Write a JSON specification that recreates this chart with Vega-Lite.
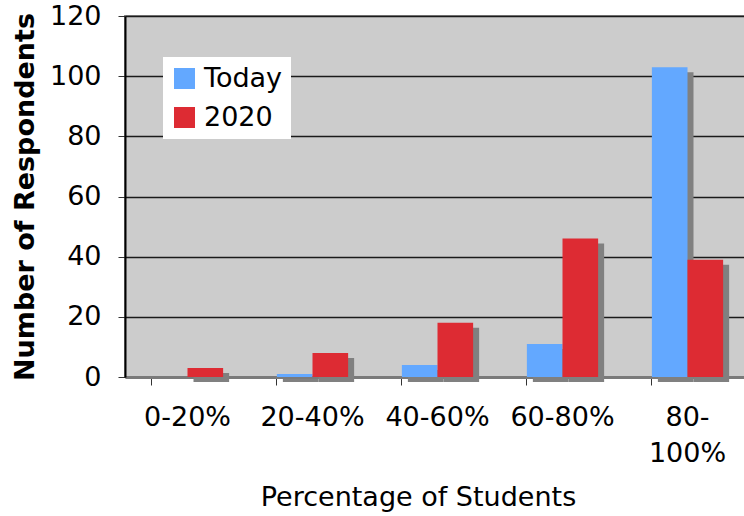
{
  "$schema": "https://vega.github.io/schema/vega-lite/v6.json",
  "width": 625,
  "height": 361,
  "autosize": {"type": "none"},
  "padding": {"left": 125, "top": 16, "right": 0, "bottom": 139},
  "background": "white",
  "config": {
    "font": "DejaVu Sans",
    "view": {"fill": "#CCCCCC", "stroke": "#8a8a8a", "strokeWidth": 2}
  },
  "data": {
    "values": [
      {"range": "0-20%", "series": "Today", "count": 0},
      {"range": "0-20%", "series": "2020", "count": 3},
      {"range": "20-40%", "series": "Today", "count": 1},
      {"range": "20-40%", "series": "2020", "count": 8},
      {"range": "40-60%", "series": "Today", "count": 4},
      {"range": "40-60%", "series": "2020", "count": 18},
      {"range": "60-80%", "series": "Today", "count": 11},
      {"range": "60-80%", "series": "2020", "count": 46},
      {"range": "80-100%", "series": "Today", "count": 103},
      {"range": "80-100%", "series": "2020", "count": 39}
    ]
  },
  "encoding": {
    "x": {
      "field": "range",
      "type": "nominal",
      "sort": ["0-20%", "20-40%", "40-60%", "60-80%", "80-100%"],
      "scale": {"paddingInner": 0.43, "paddingOuter": 0.215},
      "axis": {
        "title": "Percentage of Students",
        "titleFontSize": 27,
        "titleFontWeight": "normal",
        "titleColor": "black",
        "titlePadding": 18,
        "titleX": 293,
        "titleAnchor": "middle",
        "labelFontSize": 27,
        "labelColor": "black",
        "labelAngle": 0,
        "labelPadding": 19,
        "labelLineHeight": 36,
        "labelExpr": "datum.value == '80-100%' ? ['80-', '100%'] : datum.label",
        "bandPosition": 0,
        "labelDx": 62.5,
        "labelOverlap": false,
        "ticks": true,
        "tickSize": 8,
        "tickColor": "#333333",
        "domainColor": "#7a7a7a",
        "domainWidth": 3,
        "grid": false
      }
    },
    "y": {
      "field": "count",
      "type": "quantitative",
      "scale": {"domain": [0, 120]},
      "axis": {
        "title": "Number of Respondents",
        "titleFontSize": 27,
        "titleFontWeight": "bold",
        "titleColor": "black",
        "titlePadding": 10,
        "labelFontSize": 27,
        "labelColor": "black",
        "labelPadding": 17,
        "labelOverlap": false,
        "labelFlush": false,
        "values": [0, 20, 40, 60, 80, 100, 120],
        "tickSize": 7,
        "tickColor": "#333333",
        "domainColor": "black",
        "domainWidth": 2,
        "grid": true,
        "gridColor": "#1a1a1a",
        "gridWidth": 1.5
      }
    }
  },
  "layer": [
    {
      "mark": {"type": "bar", "color": "#808080", "yOffset": 5},
      "encoding": {
        "xOffset": {
          "field": "series",
          "sort": ["Today", "2020"],
          "scale": {"range": [6, 77.25], "paddingInner": 0, "paddingOuter": 0}
        }
      }
    },
    {
      "mark": {"type": "bar"},
      "encoding": {
        "xOffset": {
          "field": "series",
          "sort": ["Today", "2020"],
          "scale": {"paddingInner": 0, "paddingOuter": 0}
        },
        "color": {
          "field": "series",
          "type": "nominal",
          "sort": ["Today", "2020"],
          "scale": {"domain": ["Today", "2020"], "range": ["#63A8FF", "#DD2B33"]},
          "legend": {
            "title": null,
            "orient": "none",
            "legendX": 38,
            "legendY": 41,
            "fillColor": "white",
            "padding": 8,
            "symbolType": "square",
            "symbolSize": 441,
            "symbolStrokeWidth": 0,
            "symbolOpacity": 1,
            "labelFontSize": 27,
            "labelColor": "black",
            "labelOffset": 6,
            "rowPadding": 11
          }
        }
      }
    }
  ],
  "resolve": {"scale": {"xOffset": "independent"}}
}
